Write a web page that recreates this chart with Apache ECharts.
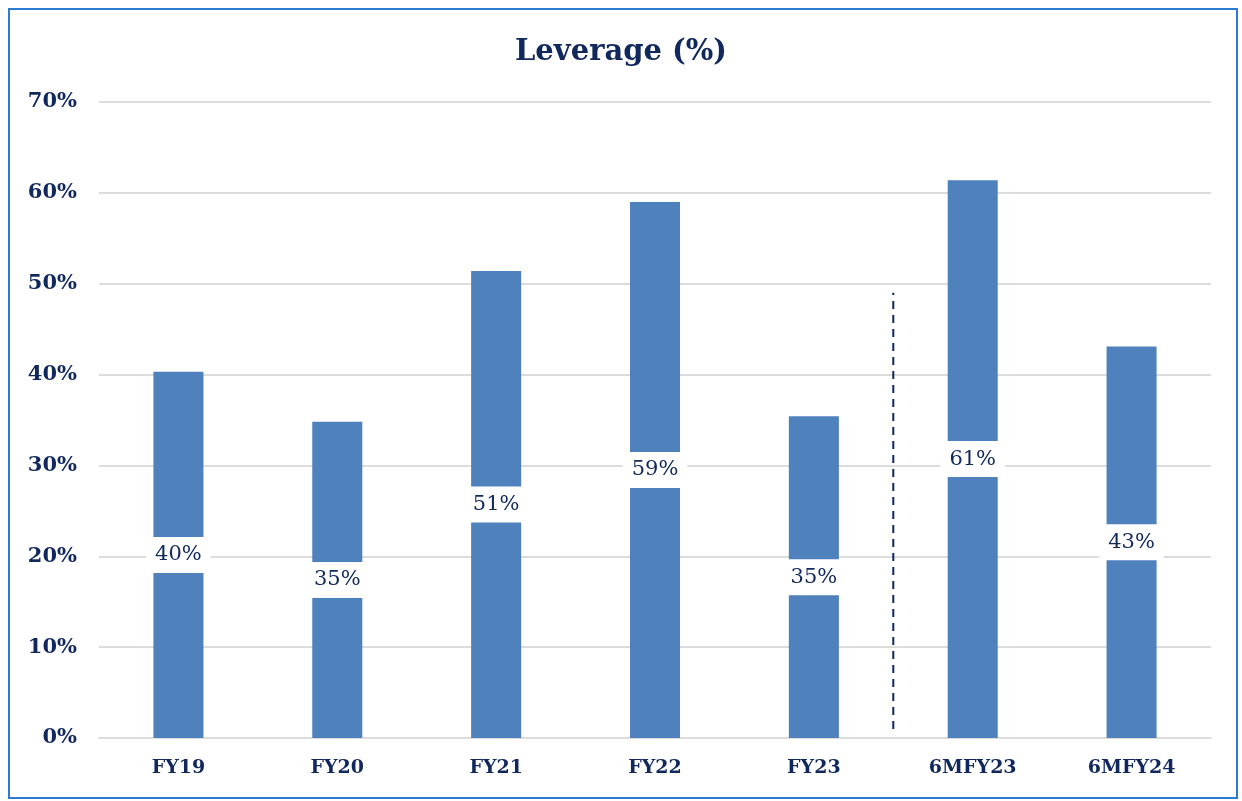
<!DOCTYPE html>
<html>
<head>
<meta charset="utf-8">
<script src="https://cdn.jsdelivr.net/npm/echarts@6/dist/echarts.min.js"></script>
<style>
  html, body { margin: 0; padding: 0; background: #fff; }
  #frame {
    position: absolute; left: 8px; top: 8px;
    width: 1226px; height: 787px;
    border: 2px solid #2b7bd0;
  }
  #chart { position: absolute; left: 0; top: 0; width: 1242px; height: 801px; }
</style>
</head>
<body>
<div id="frame"></div>
<div id="chart"></div>
<script>
// chart data
const categories = ["FY19", "FY20", "FY21", "FY22", "FY23", "6MFY23", "6MFY24"]
const leverage = [40.3, 34.8, 51.4, 59.0, 35.4, 61.4, 43.1]
const yTicks = [0, 10, 20, 30, 40, 50, 60, 70]
// dashed separator between FY23 and 6MFY23 (x index, y %)
const dividerLine = [[4.5, 1], [4.5, 49]]

const navy = "#10285c"
const font = "'DejaVu Serif', 'Liberation Serif', serif"

const chart = echarts.init(document.getElementById("chart"))
chart.setOption({
  backgroundColor: "transparent",
  animation: false,
  title: {
    text: "Leverage (%)",
    left: "center",
    top: 33,
    textStyle: { color: navy, fontFamily: font, fontWeight: "bold", fontSize: 29 },
  },
  grid: { left: 99, right: 31, top: 102, bottom: 63 },
  xAxis: [
    {
      type: "category",
      data: categories,
      axisLine: { show: true, lineStyle: { color: "#dcdcdc", width: 2 } },
      axisTick: { show: false },
      axisLabel: {
        color: navy, fontFamily: font, fontWeight: "bold", fontSize: 19, margin: 21,
      },
    },
    {
      type: "value",
      min: -0.5,
      max: categories.length - 0.5,
      show: false,
    },
  ],
  yAxis: {
    type: "value",
    min: yTicks[0],
    max: yTicks[yTicks.length - 1],
    interval: 10,
    axisLine: { show: false },
    axisTick: { show: false },
    splitLine: { lineStyle: { color: "#dcdcdc", width: 2 } },
    axisLabel: {
      color: navy, fontFamily: font, fontWeight: "bold", fontSize: 21, margin: 22,
      verticalAlign: "middle", padding: [4, 0, 0, 0],
      formatter: (v) => v + "%",
    },
  },
  series: [
    {
      type: "bar",
      data: leverage,
      barWidth: "31.5%",
      itemStyle: { color: "#4f81bd" },
      label: {
        show: true,
        position: "inside",
        color: navy,
        fontFamily: font,
        fontSize: 21,
        backgroundColor: "#fff",
        padding: [8, 9, 7, 9],
        formatter: (p) => Math.round(p.value) + "%",
      },
    },
    {
      type: "line",
      xAxisIndex: 1,
      data: dividerLine,
      symbol: "none",
      lineStyle: { color: navy, width: 2, type: [8, 6] },
    },
  ],
})
</script>
</body>
</html>
